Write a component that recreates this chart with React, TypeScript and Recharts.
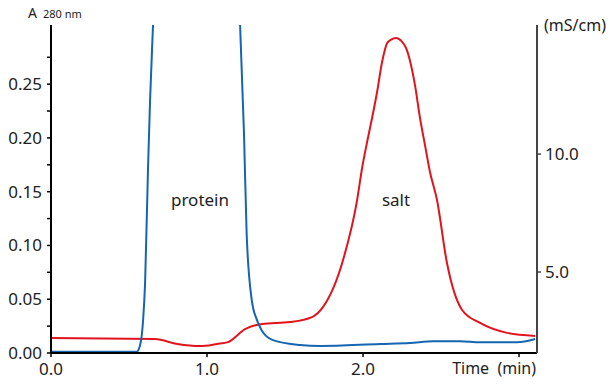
import React from "react";
import { LineChart, Line, XAxis, YAxis } from "recharts";

// absorbance at 280 nm (left axis)
const absTime = [
  0, 0.3, 0.55, 0.575, 0.59, 0.603, 0.622, 0.635, 0.654, 0.68, 0.9, 1.18, 1.212, 1.237, 1.254,
  1.287, 1.319, 1.351, 1.423, 1.596, 1.724, 2.109, 2.301, 2.45, 2.622, 2.75, 2.987, 3.103,
];
const absValue = [
  0.0012, 0.0012, 0.0012, 0.01, 0.03, 0.065, 0.173, 0.235, 0.305, 0.4, 1.0, 0.4, 0.305, 0.204,
  0.111, 0.049, 0.031, 0.021, 0.012, 0.0074, 0.0065, 0.0084, 0.0093, 0.011, 0.011, 0.01, 0.01,
  0.013,
];

// conductivity in mS/cm (right axis)
const condTime = [
  0, 0.667, 0.81, 0.955, 1.064, 1.135, 1.244, 1.353, 1.532, 1.673, 1.744, 1.872, 1.962, 1.994,
  2.026, 2.058, 2.09, 2.122, 2.154, 2.18, 2.212, 2.245, 2.276, 2.333, 2.365, 2.397, 2.429, 2.474,
  2.538, 2.635, 2.75, 2.923, 3.103,
];
const condValue = [
  2.2, 2.16, 1.95, 1.86, 1.95, 2.03, 2.58, 2.8, 2.88, 3.09, 3.52, 5.51, 8.05, 9.41, 10.51, 11.53,
  12.63, 13.9, 14.7, 14.85, 14.92, 14.8, 14.49, 12.92, 11.53, 10.38, 9.24, 8.05, 5.38, 3.39, 2.84,
  2.42, 2.29,
];

const timeTicks = [0, 1, 2, 3];
const absTicks = [0, 0.025, 0.05, 0.075, 0.1, 0.125, 0.15, 0.175, 0.2, 0.225, 0.25, 0.275];
const condTicks = [5, 10];

const absData = absTime.map((t, i) => ({ t, a: absValue[i] }));
const condData = condTime.map((t, i) => ({ t, c: condValue[i] }));

const FONT = "'Noto Sans', sans-serif";
const TEXT = "#222";

function TimeTick(props: any) {
  const { x, y, payload } = props;
  if (payload.value === 3) {
    return (
      <text x={x + 17} y={y} dy="0.71em" textAnchor="end" fontSize={16} fill={TEXT} fontFamily={FONT}>
        {"Time\u00a0\u00a0(min)"}
      </text>
    );
  }
  return (
    <text x={x} y={y} dy="0.71em" textAnchor="middle" fontSize={17} fill={TEXT} fontFamily={FONT}>
      {payload.value.toFixed(1)}
    </text>
  );
}

export default function App() {
  return (
    <div style={{ position: "absolute", left: 0, top: 0, width: 613, height: 385, background: "#fff" }}>
      <LineChart width={613} height={385} margin={{ top: 25, right: 0, bottom: 0, left: 0 }}>
        <XAxis
          dataKey="t"
          type="number"
          domain={[0, 3.115]}
          ticks={timeTicks}
          height={32}
          tick={<TimeTick />}
          tickSize={4}
          tickMargin={6}
          axisLine={{ stroke: "#000", strokeWidth: 2 }}
          tickLine={{ stroke: "#000", strokeWidth: 1.5 }}
        />
        <YAxis
          yAxisId="a"
          width={51}
          domain={[0, 0.305]}
          allowDataOverflow
          ticks={absTicks}
          interval={0}
          tickFormatter={(v: number) => (Math.round(v * 1000) % 50 === 0 ? v.toFixed(2) : "")}
          tickSize={4}
          tickMargin={5}
          tick={{ fontSize: 17, fill: TEXT, fontFamily: FONT }}
          axisLine={{ stroke: "#000", strokeWidth: 2 }}
          tickLine={{ stroke: "#000", strokeWidth: 1.5 }}
        />
        <YAxis
          yAxisId="c"
          orientation="right"
          width={76}
          domain={[1.568, 15.47]}
          allowDataOverflow
          ticks={condTicks}
          tickFormatter={(v: number) => v.toFixed(1)}
          tickSize={4}
          tickMargin={4}
          tick={{ fontSize: 17, fill: TEXT, fontFamily: FONT }}
          axisLine={{ stroke: "#444", strokeWidth: 2 }}
          tickLine={{ stroke: "#444", strokeWidth: 1.5 }}
        />
        <Line
          yAxisId="c"
          data={condData}
          dataKey="c"
          type="monotone"
          stroke="#e1141e"
          strokeWidth={2}
          dot={false}
          isAnimationActive={false}
        />
        <Line
          yAxisId="a"
          data={absData}
          dataKey="a"
          type="monotone"
          stroke="#1565b0"
          strokeWidth={2}
          dot={false}
          isAnimationActive={false}
        />
      </LineChart>
      <svg
        width={613}
        height={385}
        style={{ position: "absolute", left: 0, top: 0, pointerEvents: "none" }}
        fontFamily={FONT}
        fill={TEXT}
      >
        <text x={28} y={18} fontSize={14}>A</text>
        <text x={43} y={18} fontSize={11}>280 nm</text>
        <text x={544} y={31} fontSize={16}>(mS/cm)</text>
        <text x={200} y={206} fontSize={17} textAnchor="middle">protein</text>
        <text x={396} y={206} fontSize={17} textAnchor="middle">salt</text>
      </svg>
    </div>
  );
}
